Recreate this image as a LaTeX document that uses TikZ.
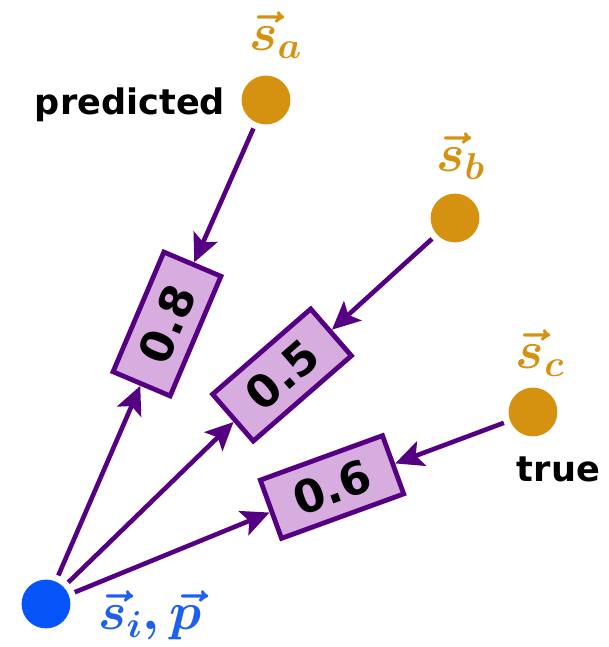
\RequirePackage{fix-cm}
\documentclass[tikz,border=0pt]{standalone}
\usepackage{fontspec}
\setsansfont{DejaVu Sans}
\usetikzlibrary{arrows.meta}
\definecolor{edgepurple}{RGB}{85,0,130}
\definecolor{boxfill}{RGB}{215,172,222}
\definecolor{dotgold}{RGB}{212,146,16}
\definecolor{dotblue}{RGB}{5,85,250}
\definecolor{labelblue}{RGB}{30,95,235}
\begin{document}
\begin{tikzpicture}[
  dot/.style={circle, fill=#1, inner sep=0pt, minimum size=1.22cm},
  score/.style={draw=edgepurple, fill=boxfill, line width=1.2mm, minimum width=3.25cm,
    minimum height=1.55cm, inner sep=0pt, font=\fontsize{32}{34}\selectfont\sffamily\bfseries},
  link/.style={edgepurple, line width=1.15mm, -{Stealth[length=7mm, width=6.5mm, inset=1.5mm]}, shorten <=1.6mm},
  vlabel/.style={font=\fontsize{38}{40}\selectfont\boldmath},
  tag/.style={font=\fontsize{25}{28}\selectfont\sffamily\bfseries}
]
\useasboundingbox (0,0) rectangle (15.225,16.175);
% points
\node[dot=dotblue] (si) at (1.15,1.075) {};
\node[dot=dotgold] (sa) at (6.65,13.675) {};
\node[dot=dotgold] (sb) at (11.375,10.725) {};
\node[dot=dotgold] (sc) at (13.325,5.875) {};
\node[vlabel, text=labelblue] (lsi) at (3.75,0.8) {$\vec{s}_i,\vec{p}$};
\node[vlabel, text=dotgold] (lsa) at (6.89,15.3) {$\vec{s}_a$};
\node[vlabel, text=dotgold] (lsb) at (11.51,12.275) {$\vec{s}_b$};
\node[vlabel, text=dotgold] (lsc) at (13.5,7.34) {$\vec{s}_c$};
\node[tag, anchor=base east] (pred) at (5.75,13.3) {predicted};
\node[tag, anchor=base] (tru) at (13.96,4.125) {true};
% scores
\node[score, rotate=67] (b08) at (4.175,8.075) {0.8};
\node[score, rotate=41] (b05) at (7.05,6.8) {0.5};
\node[score, rotate=20] (b06) at (8.3,4.0) {0.6};
\draw[link] (si) -- (b08);
\draw[link] (si) -- (b05);
\draw[link] (si) -- (b06);
\draw[link] (sa) -- (b08);
\draw[link] (sb) -- (b05);
\draw[link] (sc) -- (b06);
\end{tikzpicture}
\end{document}
